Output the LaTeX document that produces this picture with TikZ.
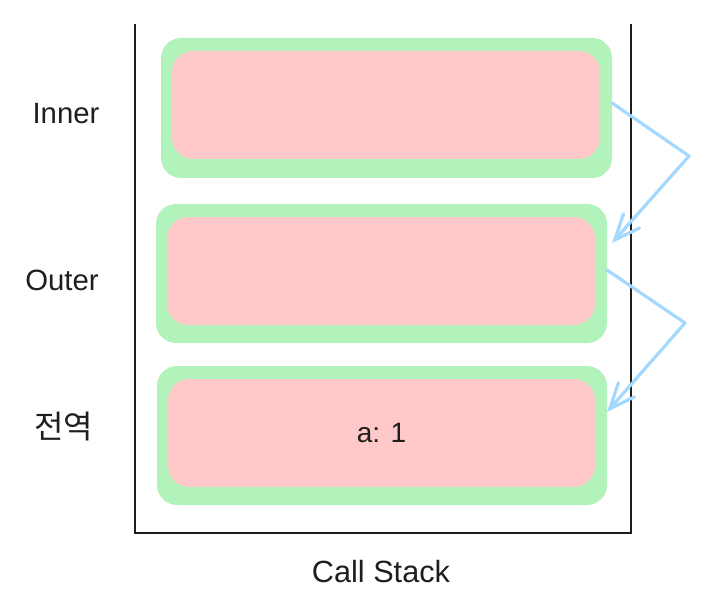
\documentclass[tikz,border=0pt]{standalone}
\usepackage{fontspec}
\setmainfont{Liberation Sans}
\newfontfamily\krfont{Noto Sans CJK KR}
\usetikzlibrary{arrows.meta}

\definecolor{framegreen}{RGB}{178,242,187}
\definecolor{framepink}{RGB}{255,201,201}
\definecolor{flowblue}{RGB}{165,216,255}
\definecolor{stackline}{RGB}{30,30,30}

\begin{document}
\begin{tikzpicture}[x=0.75pt,y=0.75pt,yscale=-1,xscale=1,
  outerbox/.style={fill=framegreen, rounded corners=15pt, inner sep=0pt, outer sep=0pt},
  innerbox/.style={fill=framepink, rounded corners=16pt, inner sep=0pt, outer sep=0pt},
  framelabel/.style={font=\fontsize{22pt}{26pt}\selectfont, text=stackline},
  flow/.style={draw=flowblue, line width=2.4pt, line cap=round, line join=round,
    -{Straight Barb[length=19pt,width=16pt,line cap=round]}}]
\path[use as bounding box] (0,0) rectangle (703,606);

%Call stack container
\draw [stackline, line width=1.1pt] (135,24) -- (135,533) -- (631,533) -- (631,24) ;

%Inner frame
\node (innerG) [outerbox, minimum width=338.25pt, minimum height=105pt] at (386.5,108) {};
\node (innerP) [innerbox, minimum width=321pt, minimum height=81pt] at (386,105) {};
%Outer frame
\node (outerG) [outerbox, minimum width=338.25pt, minimum height=104.25pt] at (381.5,273.5) {};
\node (outerP) [innerbox, minimum width=321pt, minimum height=81pt] at (381,271) {};
%Global frame
\node (globalG) [outerbox, minimum width=337.5pt, minimum height=104.25pt] at (382,435.5) {};
\node (globalP) [innerbox, minimum width=320.25pt, minimum height=81pt,
  font=\fontsize{21pt}{25pt}\selectfont, text=stackline] at (381.5,433) {a: 1};

%Scope chain arrows
\coordinate (innerOut) at (612,103);
\coordinate (innerBend) at (689,156);
\coordinate (outerIn) at (612,243);
\coordinate (outerOut) at (607,270);
\coordinate (outerBend) at (685,323);
\coordinate (globalIn) at (607,412);
\draw [flow] (innerOut) -- (innerBend) -- (outerIn) ;
\draw [flow] (outerOut) -- (outerBend) -- (globalIn) ;

% Text Node
\node (innerName) [framelabel] at (66,114) {Inner};
% Text Node
\node (outerName) [framelabel] at (62,280) {Outer};
% Text Node
\node (globalName) [framelabel, font=\krfont\fontsize{24pt}{28pt}\selectfont] at (64,427) {전역};
% Text Node
\node (stackName) [framelabel, font=\fontsize{23pt}{27pt}\selectfont] at (381,572) {Call Stack};

\end{tikzpicture}
\end{document}
